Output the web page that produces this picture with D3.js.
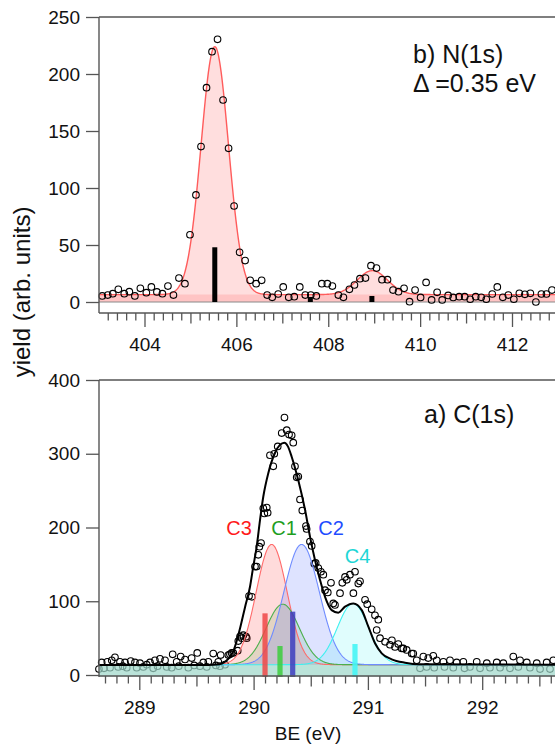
<!DOCTYPE html>
<html><head><meta charset="utf-8">
<script src="https://cdn.jsdelivr.net/npm/d3@7"></script>
<style>
body{margin:0;background:#fff}
svg{display:block;font-family:"Liberation Sans",Arial,Helvetica,sans-serif}
</style></head><body>
<svg id="chart" width="555" height="744"></svg>
<script>
// ---------------- N(1s) panel data ----------------
const n1sEnergy = [403.08,403.20,403.31,403.43,403.56,403.67,403.79,403.91,404.04,404.15,404.27,404.39,404.51,404.63,404.75,404.88,404.99,405.12,405.23,405.35,405.47,405.59,405.71,405.83,405.95,406.07,406.19,406.30,406.43,406.55,406.67,406.78,406.91,407.02,407.14,407.26,407.38,407.50,407.62,407.74,407.86,407.98,408.09,408.22,408.33,408.46,408.57,408.69,408.81,408.93,409.05,409.17,409.29,409.41,409.53,409.65,409.77,409.89,410.01,410.13,410.25,410.37,410.48,410.61,410.72,410.85,410.97,411.09,411.21,411.33,411.44,411.57,411.68,411.80,411.92,412.04,412.16,412.28,412.40,412.52,412.64,412.75,412.87];
const n1sYield = [5.3,6.1,7.3,11.1,7.3,9.1,5.3,12,8.2,13.2,8.8,7.3,14,6.1,21,16.1,59,93.9,136.3,188,219.6,230.4,177.2,134.8,84.2,43.6,36.3,19,16.1,19,6.1,4.1,7,13.2,4.1,4.7,13.2,6.1,6.1,5.3,16.1,16.1,14,6.1,4.1,11.1,14.9,20.5,21,31.9,29.8,19.6,19.6,10.5,9.1,12,0.3,10.5,4,17.2,1.8,8.5,1.8,5.8,4,4.7,4.7,2.4,4.7,4.1,2.4,7,13.2,4.1,6.1,2.4,7.6,6.7,7.6,0,7,7,10.5];
const n1sBaseline = 6.5;
const n1sPeakCenter = [405.53, 408.96];
const n1sPeakHeight = [217.5, 21];
const n1sPeakSigma = [0.297, 0.33];
const n1sStickEnergy = [405.53, 407.61, 408.95];
const n1sStickHeight = [48, 4.4, 5.3];
const n1sXTicks = [404, 406, 408, 410, 412];
const n1sYTicks = [0, 50, 100, 150, 200, 250];

// ---------------- C(1s) panel data ----------------
const c1sPoints = [
[288.647,8],[288.671,17],[288.691,9],[288.72,18],[288.744,10],[288.759,20],[288.787,24],[288.815,11],[288.831,18],[288.855,12],
[288.875,17],[288.89,10],[288.925,19],[288.962,17],[288.977,10],[289.006,16],[289.035,11],[289.065,14],[289.094,17],[289.122,9],
[289.137,20],[289.16,12],[289.181,22],[289.225,20],[289.24,11],[289.283,10],[289.292,28],[289.327,18],[289.345,12],[289.362,25],
[289.4,21],[289.429,10],[289.458,23],[289.48,13],[289.507,30],[289.53,12],[289.56,17],[289.59,11],[289.604,18],[289.647,29],
[289.67,13],[289.691,18],[289.706,12],[289.712,27],[289.75,14],[289.779,27],[289.793,28],[289.808,30],[289.822,30],[289.861,33],
[289.866,46],[289.881,52],[289.896,50],[289.91,54],[289.934,52],[289.94,50],[289.96,107],[289.985,106],[290.012,147],[290.027,147],
[290.041,163],[290.05,174],[290.065,179],[290.085,226],[290.094,219],[290.115,227],[290.123,220],[290.143,298],[290.172,283],[290.181,300],
[290.211,310],[290.246,328],[290.27,349],[290.29,332],[290.31,326],[290.333,325],[290.347,315],[290.362,283],[290.377,268],[290.391,269],
[290.406,238],[290.426,223],[290.458,202],[290.464,198],[290.493,181],[290.508,175],[290.531,151],[290.543,152],[290.566,145],[290.589,140],
[290.61,136],[290.625,115],[290.649,112],[290.677,125],[290.697,97],[290.712,95],[290.756,111],[290.776,125],[290.8,133],[290.815,129],
[290.843,136],[290.873,111],[290.887,140],[290.916,124],[290.931,127],[290.975,102],[290.994,96],[291.033,89],[291.062,81],[291.077,61],
[291.091,75],[291.106,50],[291.15,45],[291.193,41],[291.21,47],[291.237,38],[291.266,42],[291.296,36],[291.31,36],[291.339,34],
[291.383,29],[291.397,29],[291.427,20],[291.456,9],[291.485,25],[291.514,11],[291.528,23],[291.572,26],[291.58,10],[291.602,20],
[291.66,18],[291.67,11],[291.718,20],[291.747,10],[291.777,17],[291.835,18],[291.845,9],[291.893,11],[291.952,18],[291.981,9],
[292.04,16],[292.068,10],[292.127,17],[292.156,10],[292.185,16],[292.243,9],[292.272,25],[292.316,11],[292.331,20],[292.39,17],
[292.418,10],[292.477,16],[292.506,8],[292.564,17],[292.593,8],[292.622,20]
];
const c1sFitEnergy = [288.6,289.6,289.7,289.75,289.79,289.822,289.85,289.881,289.925,289.969,289.997,290.027,290.056,290.085,290.129,290.187,290.23,290.269,290.30,290.333,290.391,290.45,290.493,290.537,290.581,290.625,290.683,290.741,290.8,290.873,290.946,291.004,291.062,291.121,291.208,291.325,291.45,292.7];
const c1sFitYield  = [13.5,13.6,14.5,18,24,32,45,63,92,120,147,174,210,242,274,301,312,315,310,296,264,224,188,156,129,106,88,84.5,92.6,97,88,65.5,43,29.4,21.3,16.7,14.5,14];
const c1sBaseline = 14;
const c1sCompName   = ["C3", "C1", "C2", "C4"];
const c1sCompCenter = [290.158, 290.255, 290.42, 290.87];
const c1sCompHeight = [163, 82, 163, 83];
const c1sCompSigma  = [0.135, 0.145, 0.155, 0.137];
const c1sStickEnergy = [290.10, 290.231, 290.342, 290.887];
const c1sStickHeight = [83.6, 39.3, 85.9, 42];
const c1sXTicks = [289, 290, 291, 292];
const c1sYTicks = [0, 100, 200, 300, 400];

// ---------------- styles ----------------
const compStyle = {
  C3: {line:"#ff6a6a", fill:"rgba(255,40,40,0.17)", stick:"rgba(240,70,70,0.85)", text:"#ff1a1a"},
  C1: {line:"#4caf4c", fill:"rgba(40,170,40,0.13)", stick:"rgba(60,205,60,0.85)", text:"#1e9e1e"},
  C2: {line:"#6f8cff", fill:"rgba(60,90,255,0.17)", stick:"rgba(60,60,190,0.85)", text:"#1f4dff"},
  C4: {line:"#3ff0f0", fill:"rgba(60,240,240,0.16)", stick:"rgba(70,245,245,0.9)", text:"#1ed6d6"}
};
const axisColor = "#555";

(function draw(){
const svg = d3.select("#chart");
const gauss = (e, c, h, s) => h * Math.exp(-0.5 * ((e - c) / s) ** 2);

const xT = d3.scaleLinear().domain([404, 412]).range([144.5, 512]);
const yT = d3.scaleLinear().domain([0, 250]).range([302, 17]);
const xB = d3.scaleLinear().domain([289, 292]).range([139.3, 482.2]);
const yB = d3.scaleLinear().domain([0, 400]).range([675, 380]);
const L = 99, R = 555;

const defs = svg.append("defs");
defs.append("clipPath").attr("id","clipT").append("rect").attr("x",L).attr("y",10).attr("width",R-L).attr("height",292);
defs.append("clipPath").attr("id","clipB").append("rect").attr("x",L).attr("y",372).attr("width",R-L).attr("height",305);

function styleAxis(g){
  g.select(".domain").remove();
  g.selectAll("line").attr("stroke", axisColor).attr("stroke-width", 1.3);
  g.selectAll("text").attr("font-size", 19).attr("fill", "#111")
    .attr("font-family", '"Liberation Sans", Arial, sans-serif');
}
function xAxis(scale, y, majors, mediums, minors, pad){
  const g = svg.append("g").attr("transform", `translate(0,${y})`);
  g.append("g").call(d3.axisBottom(scale).tickValues(minors).tickSize(7.5).tickFormat("")).call(styleAxis);
  g.append("g").call(d3.axisBottom(scale).tickValues(mediums).tickSize(10.5).tickFormat("")).call(styleAxis);
  g.append("g").call(d3.axisBottom(scale).tickValues(majors).tickSize(14).tickPadding(pad).tickFormat(d3.format("d"))).call(styleAxis);
  g.append("line").attr("x1", L).attr("x2", R).attr("y1", 0).attr("y2", 0).attr("stroke", axisColor).attr("stroke-width", 1.4);
}
function yAxis(scale, ticks, topY, bottomY){
  const g = svg.append("g").attr("transform", `translate(${L},0)`);
  g.call(d3.axisLeft(scale).tickValues(ticks).tickSize(13).tickPadding(6)).call(styleAxis);
  g.append("line").attr("x1",0).attr("x2",0).attr("y1",topY).attr("y2",bottomY).attr("stroke",axisColor).attr("stroke-width",1.4);
  svg.append("line").attr("x1",L).attr("x2",R).attr("y1",topY).attr("y2",topY).attr("stroke",axisColor).attr("stroke-width",1.3);
}

// =============== TOP PANEL : N(1s) ===============
const gridT = d3.range(403, 413.0001, 0.01);
const n1sFit = e => n1sBaseline + n1sPeakCenter.reduce((s, c, i) => s + gauss(e, c, n1sPeakHeight[i], n1sPeakSigma[i]), 0);
const gT = svg.append("g").attr("clip-path","url(#clipT)");
gT.append("path").datum(gridT)
  .attr("d", d3.area().x(d => xT(d)).y0(yT(0)).y1(yT(n1sBaseline)))
  .attr("fill", "rgba(255,60,60,0.16)");
gT.append("path").datum(gridT)
  .attr("d", d3.area().x(d => xT(d)).y0(yT(0)).y1(d => yT(n1sFit(d))))
  .attr("fill", "rgba(255,60,60,0.17)");
gT.append("path").datum(gridT)
  .attr("d", d3.line().x(d => xT(d)).y(d => yT(n1sFit(d))))
  .attr("fill", "none").attr("stroke", "#ff5c5c").attr("stroke-width", 1.4);
svg.append("line").attr("x1", L).attr("x2", R).attr("y1", yT(0)).attr("y2", yT(0)).attr("stroke", "#8a8a8a").attr("stroke-width", 1.2);
svg.append("g").selectAll("rect").data(d3.zip(n1sStickEnergy, n1sStickHeight)).join("rect")
  .attr("x", d => xT(d[0]) - 2.5).attr("width", 5)
  .attr("y", d => yT(d[1])).attr("height", d => yT(0) - yT(d[1]))
  .attr("fill", "#000");
svg.append("g").selectAll("circle").data(d3.zip(n1sEnergy, n1sYield)).join("circle")
  .attr("cx", d => xT(d[0])).attr("cy", d => yT(d[1])).attr("r", 3.3)
  .attr("fill", "none").attr("stroke", "#000").attr("stroke-width", 1.1);

yAxis(yT, n1sYTicks, 17, 313);
xAxis(xT, 313, n1sXTicks,
  [405, 407, 409, 411],
  d3.range(403.2, 413, 0.2).map(v => +v.toFixed(1)).filter(v => Math.abs(v - Math.round(v)) > 0.05),
  10.5);

svg.append("text").attr("x", 413).attr("y", 63).attr("font-size", 25).attr("fill", "#111").text("b) N(1s)");
svg.append("text").attr("x", 413).attr("y", 92).attr("font-size", 25).attr("fill", "#111").text("Δ =0.35 eV");

// =============== BOTTOM PANEL : C(1s) ===============
const gridB = d3.range(288.6, 292.7001, 0.004);
const gB = svg.append("g").attr("clip-path","url(#clipB)");
svg.append("g").selectAll("circle").data(c1sPoints).join("circle")
  .attr("cx", d => xB(d[0])).attr("cy", d => yB(d[1])).attr("r", 3.3)
  .attr("fill", "none").attr("stroke", "#000").attr("stroke-width", 1.1);
const gB2 = svg.append("g").attr("clip-path","url(#clipB)");
gB2.append("rect").attr("x", L).attr("width", R - L)
  .attr("y", yB(c1sBaseline)).attr("height", yB(0) + 1.5 - yB(c1sBaseline))
  .attr("fill", "rgba(160,216,202,0.72)");
c1sCompName.forEach((name, i) => {
  const f = e => c1sBaseline + gauss(e, c1sCompCenter[i], c1sCompHeight[i], c1sCompSigma[i]);
  gB2.append("path").datum(gridB)
    .attr("d", d3.area().x(d => xB(d)).y0(yB(c1sBaseline)).y1(d => yB(f(d))))
    .attr("fill", compStyle[name].fill);
});
c1sCompName.forEach((name, i) => {
  const f = e => c1sBaseline + gauss(e, c1sCompCenter[i], c1sCompHeight[i], c1sCompSigma[i]);
  gB2.append("path").datum(gridB)
    .attr("d", d3.line().x(d => xB(d)).y(d => yB(f(d))))
    .attr("fill", "none").attr("stroke", compStyle[name].line).attr("stroke-width", 1.1);
});
svg.append("g").selectAll("rect").data(c1sCompName.map((n, i) => [n, c1sStickEnergy[i], c1sStickHeight[i]])).join("rect")
  .attr("x", d => xB(d[1]) - 2.6).attr("width", 5.2)
  .attr("y", d => yB(d[2])).attr("height", d => yB(0) + 2 - yB(d[2]))
  .attr("fill", d => compStyle[d[0]].stick);
gB2.append("path").datum(d3.zip(c1sFitEnergy, c1sFitYield))
  .attr("d", d3.line().x(d => xB(d[0])).y(d => yB(d[1])).curve(d3.curveMonotoneX))
  .attr("fill", "none").attr("stroke", "#000").attr("stroke-width", 2);

yAxis(yB, c1sYTicks, 380, 677);
xAxis(xB, 676, c1sXTicks,
  [289.5, 290.5, 291.5, 292.5],
  d3.range(288.7, 292.65, 0.1).map(v => +v.toFixed(1)).filter(v => Math.abs(v * 2 - Math.round(v * 2)) > 0.05),
  11);

const labelPos = {C3:[239, 535], C1:[284, 535], C2:[331, 535], C4:[357.5, 563]};
c1sCompName.forEach(n => {
  svg.append("text").attr("x", labelPos[n][0]).attr("y", labelPos[n][1]).attr("text-anchor", "middle")
    .attr("font-size", 20).attr("fill", compStyle[n].text).text(n);
});
svg.append("text").attr("x", 424).attr("y", 423).attr("font-size", 25).attr("fill", "#111").text("a) C(1s)");
svg.append("text").attr("x", 308).attr("y", 740).attr("text-anchor", "middle").attr("font-size", 19).attr("fill", "#111").text("BE (eV)");
svg.append("text").attr("transform", "translate(30,292) rotate(-90)").attr("text-anchor", "middle")
  .attr("font-size", 24).attr("fill", "#111").text("yield (arb. units)");
})();
</script>
</body></html>
